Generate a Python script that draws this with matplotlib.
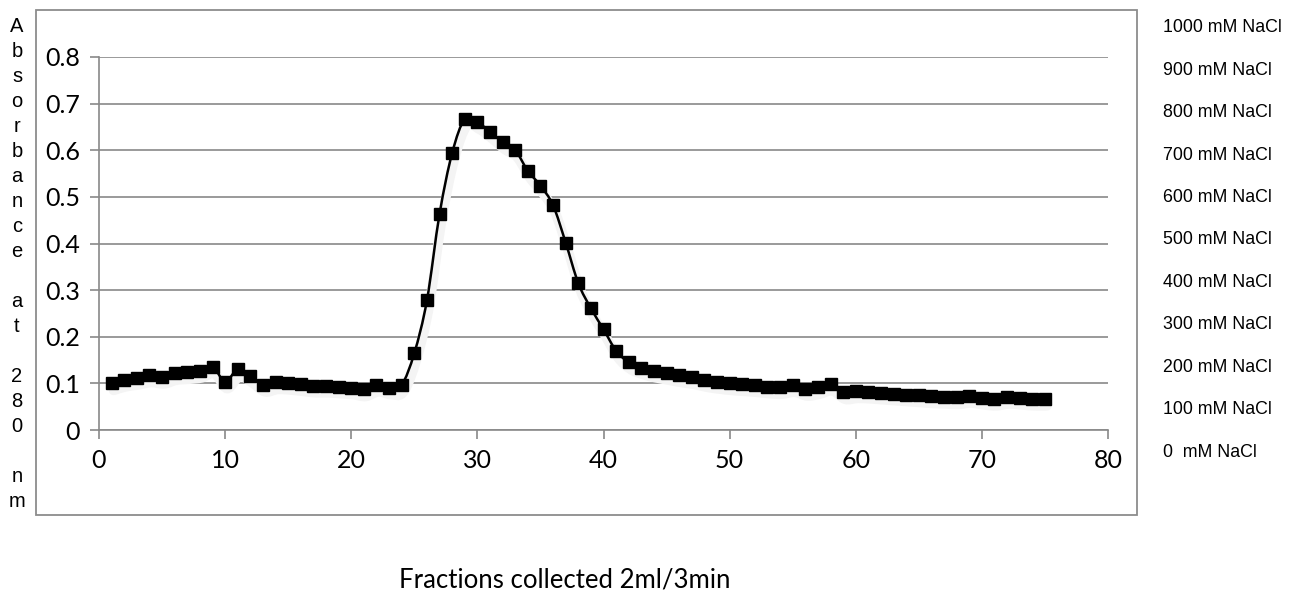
import numpy as np
import matplotlib.pyplot as plt
from matplotlib.path import Path
from matplotlib.patches import PathPatch, Rectangle
from matplotlib.transforms import offset_copy, blended_transform_factory

# fraction number and absorbance
fractions = list(range(1, 76))
absorbance = [
    0.100, 0.108, 0.112, 0.117, 0.114, 0.122, 0.124, 0.127, 0.136, 0.104,
    0.130, 0.116, 0.097, 0.102, 0.101, 0.098, 0.095, 0.095, 0.093, 0.091,
    0.087, 0.097, 0.091, 0.097, 0.165, 0.278, 0.463, 0.594, 0.667, 0.660,
    0.640, 0.617, 0.600, 0.556, 0.524, 0.482, 0.402, 0.315, 0.261, 0.216,
    0.170, 0.145, 0.134, 0.127, 0.122, 0.117, 0.113, 0.107, 0.103, 0.100,
    0.098, 0.096, 0.093, 0.092, 0.096, 0.088, 0.092, 0.099, 0.081, 0.083,
    0.082, 0.080, 0.078, 0.076, 0.074, 0.072, 0.071, 0.070, 0.073, 0.069,
    0.067, 0.071, 0.069, 0.067, 0.067,
]
nacl_levels = [0, 100, 200, 300, 400, 500, 600, 700, 800, 900, 1000]
nacl_labels = ["0  mM NaCl"] + ["%d mM NaCl" % v for v in nacl_levels[1:]]

y_label = "Absorbance at 280 nm"
x_label = "Fractions collected 2ml/3min"

GRID = "#898989"


def smooth_path(xs, ys):
    # catmull-rom style bezier, like the excel "smoothed line"
    p = np.column_stack([xs, ys]).astype(float)
    verts = [p[0]]
    codes = [Path.MOVETO]
    n = len(p)
    for i in range(n - 1):
        p0 = p[i - 1] if i > 0 else p[i]
        p3 = p[i + 2] if i + 2 < n else p[i + 1]
        c1 = p[i] + (p[i + 1] - p0) / 6.0
        c2 = p[i + 1] - (p3 - p[i]) / 6.0
        verts += [c1, c2, p[i + 1]]
        codes += [Path.CURVE4] * 3
    return Path(verts, codes)


fig = plt.figure(figsize=(12.99, 5.98), dpi=100)
ax = fig.add_axes([99 / 1299, 168 / 598, 1009 / 1299, 373 / 598])

# outer chart frame
fig.patches.append(Rectangle((36 / 1299, 83 / 598), 1101 / 1299, 505 / 598,
                             transform=fig.transFigure, fill=False,
                             edgecolor="#8c8c8c", lw=1.3))

path = smooth_path(fractions, absorbance)
# faint shadow under the series
shadow_tr = offset_copy(ax.transData, fig=fig, x=2, y=-7, units="dots")
ax.add_patch(PathPatch(path, facecolor="none", edgecolor="#f4f4f4", lw=7,
                       transform=shadow_tr, zorder=2, capstyle="round"))
ax.add_patch(PathPatch(path, facecolor="none", edgecolor="black", lw=1.8, zorder=3))
ax.plot(fractions, absorbance, ls="none", marker="s", ms=9, color="black", zorder=4)

ax.set_xlim(0, 80)
ax.set_ylim(0, 0.8)
ax.set_xticks(range(0, 81, 10))
ax.set_yticks(np.arange(0, 0.81, 0.1))
ax.set_yticklabels(["0"] + ["%.1f" % v for v in np.arange(0.1, 0.81, 0.1)])
ax.grid(axis="y", color=GRID, lw=1.2)
ax.set_axisbelow(True)
for s in ["top", "right"]:
    ax.spines[s].set_visible(False)
for s in ["left", "bottom"]:
    ax.spines[s].set_color(GRID)
    ax.spines[s].set_linewidth(1.2)
ax.tick_params(direction="out", length=6.5, width=1.2, color=GRID,
               labelsize=18, pad=7)
for t in ax.get_xticklabels() + ax.get_yticklabels():
    t.set_family("Lato")

# right hand NaCl gradient labels
ax2 = ax.twinx()
ax2.set_ylim(52, 931)
ax2.axis("off")
tr = blended_transform_factory(ax2.transAxes, ax2.transData)
for v, lab in zip(nacl_levels, nacl_labels):
    ax2.text(1.0545, v, lab, transform=tr, ha="left", va="center",
             fontsize=12.8, family=["Liberation Sans", "DejaVu Sans"], clip_on=False)

# stacked vertical y label
fig.text(17 / 1299, 1 - 264 / 598, "\n".join(y_label), ha="center", va="center",
         fontsize=14.5, family=["Liberation Sans", "DejaVu Sans"], linespacing=1.40)

fig.text(565 / 1299, 1 - 580 / 598, x_label, ha="center", va="center",
         fontsize=18.5, family="Lato")

fig.savefig("out.png", dpi=100)
